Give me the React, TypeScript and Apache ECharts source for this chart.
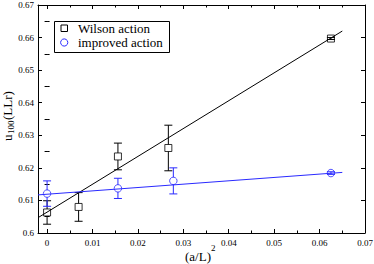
import React, { useEffect, useRef } from "react";
import * as echarts from "echarts";

// Wilson action data
const wilsonX = [0, 0.00694, 0.0156, 0.0267, 0.0625];
const wilsonY = [0.6063, 0.608, 0.6235, 0.6261, 0.6597];
const wilsonErr = [0.0036, 0.0044, 0.0041, 0.007, 0.0003];
// improved action data
const improvedX = [0, 0.0156, 0.0278, 0.0625];
const improvedY = [0.6121, 0.6137, 0.616, 0.6184];
const improvedErr = [0.0039, 0.0031, 0.004, 0.0004];
// linear fits
const wilsonFitX = [-0.002, 0.065];
const wilsonFitY = [0.6047, 0.662];
const improvedFitX = [-0.002, 0.065];
const improvedFitY = [0.6117, 0.6186];
// ticks
const xTicks = [0, 0.01, 0.02, 0.03, 0.04, 0.05, 0.06, 0.07];
const xMinorTicks = [0.005, 0.015, 0.025, 0.035, 0.045, 0.055, 0.065];
const yTicks = [0.6, 0.61, 0.62, 0.63, 0.64, 0.65, 0.66, 0.67];
const yMinorTicks = [0.605, 0.615, 0.625, 0.635, 0.645, 0.655, 0.665];

const BLUE = "#2a2aff";
const FONT = "Liberation Serif";

function errRender(color: string, half: number) {
  return (params: any, api: any) => {
    const x = api.value(0);
    const y = api.value(1);
    const e = api.value(2);
    const top = api.coord([x, y + e]);
    const bot = api.coord([x, y - e]);
    const c = api.coord([x, y]);
    const cap = 4;
    const style = { stroke: color, lineWidth: 1 };
    const children: any[] = [];
    if (top[1] < c[1] - half) {
      children.push({ type: "line", shape: { x1: c[0], y1: top[1], x2: c[0], y2: c[1] - half }, style });
      children.push({ type: "line", shape: { x1: c[0], y1: c[1] + half, x2: c[0], y2: bot[1] }, style });
    } else {
      children.push({ type: "line", shape: { x1: c[0], y1: top[1], x2: c[0], y2: bot[1] }, style });
    }
    children.push({ type: "line", shape: { x1: c[0] - cap, y1: top[1], x2: c[0] + cap, y2: top[1] }, style });
    children.push({ type: "line", shape: { x1: c[0] - cap, y1: bot[1], x2: c[0] + cap, y2: bot[1] }, style });
    return { type: "group", children };
  };
}

export default function App() {
  const ref = useRef<HTMLDivElement>(null);
  useEffect(() => {
    if (!ref.current) return;
    document.body.style.margin = "0";
    document.body.style.overflow = "hidden";
    const chart = echarts.init(ref.current, undefined, { renderer: "svg" });
    const axisCommon = {
      type: "value" as const,
      axisLine: { show: true, onZero: false, lineStyle: { color: "#000", width: 1 } },
      splitLine: { show: false },
    };
    const xBase = { ...axisCommon, min: -0.002, max: 0.07 };
    const yBase = { ...axisCommon, min: 0.6, max: 0.67 };
    const option: any = {
      animation: false,
      backgroundColor: "#fff",
      grid: { left: 38, right: 9, top: 5, bottom: 31, containLabel: false, outerBoundsMode: "none" },
      xAxis: [
        {
          ...xBase,
          position: "bottom",
          axisTick: { show: true, inside: true, length: 4, customValues: xTicks, lineStyle: { color: "#000" } },
          axisLabel: {
            show: true,
            customValues: xTicks,
            margin: 5,
            fontFamily: FONT,
            fontSize: 9,
            color: "#000",
            formatter: (v: number) => String(+v.toFixed(3)),
          },
        },
        {
          ...xBase,
          position: "bottom",
          axisLine: { show: false },
          axisTick: { show: true, inside: true, length: 2.5, customValues: xMinorTicks, lineStyle: { color: "#000" } },
          axisLabel: { show: false },
        },
        {
          ...xBase,
          position: "top",
          axisTick: { show: true, inside: true, length: 4, customValues: xTicks, lineStyle: { color: "#000" } },
          axisLabel: { show: false },
        },
        {
          ...xBase,
          position: "top",
          axisLine: { show: false },
          axisTick: { show: true, inside: true, length: 2.5, customValues: xMinorTicks, lineStyle: { color: "#000" } },
          axisLabel: { show: false },
        },
      ],
      yAxis: [
        {
          ...yBase,
          position: "left",
          axisTick: { show: true, inside: true, length: 4, customValues: yTicks, lineStyle: { color: "#000" } },
          axisLabel: {
            show: true,
            customValues: yTicks,
            margin: 4,
            fontFamily: FONT,
            fontSize: 9,
            color: "#000",
            formatter: (v: number) => String(+v.toFixed(3)),
          },
        },
        {
          ...yBase,
          position: "left",
          axisLine: { show: false },
          axisTick: { show: true, inside: true, length: 2.5, customValues: yMinorTicks, lineStyle: { color: "#000" } },
          axisLabel: { show: false },
        },
        {
          ...yBase,
          position: "right",
          axisTick: { show: true, inside: true, length: 4, customValues: yTicks, lineStyle: { color: "#000" } },
          axisLabel: { show: false },
        },
        {
          ...yBase,
          position: "right",
          axisLine: { show: false },
          axisTick: { show: true, inside: true, length: 2.5, customValues: yMinorTicks, lineStyle: { color: "#000" } },
          axisLabel: { show: false },
        },
      ],
      series: [
        {
          name: "Wilson fit",
          type: "line",
          data: wilsonFitX.map((x, i) => [x, wilsonFitY[i]]),
          showSymbol: false,
          lineStyle: { color: "#000", width: 1 },
          silent: true,
        },
        {
          name: "improved fit",
          type: "line",
          data: improvedFitX.map((x, i) => [x, improvedFitY[i]]),
          showSymbol: false,
          lineStyle: { color: BLUE, width: 1 },
          silent: true,
        },
        {
          name: "Wilson err",
          type: "custom",
          renderItem: errRender("#000", 3.5),
          data: wilsonX.map((x, i) => [x, wilsonY[i], wilsonErr[i]]),
          encode: { x: 0, y: 1 },
          z: 3,
        },
        {
          name: "improved err",
          type: "custom",
          renderItem: errRender(BLUE, 3.5),
          data: improvedX.map((x, i) => [x, improvedY[i], improvedErr[i]]),
          encode: { x: 0, y: 1 },
          z: 3,
        },
        {
          name: "Wilson action",
          type: "scatter",
          symbol: "rect",
          symbolSize: 7,
          data: wilsonX.map((x, i) => [x, wilsonY[i]]),
          itemStyle: { color: "rgba(0,0,0,0)", borderColor: "#000", borderWidth: 1 },
          z: 4,
        },
        {
          name: "improved action",
          type: "scatter",
          symbol: "circle",
          symbolSize: 7.5,
          data: improvedX.map((x, i) => [x, improvedY[i]]),
          itemStyle: { color: "rgba(0,0,0,0)", borderColor: BLUE, borderWidth: 1 },
          z: 4,
        },
      ],
      graphic: [
        {
          type: "rect",
          shape: { x: 54.5, y: 21.5, width: 115, height: 31 },
          style: { fill: "#fff", stroke: "#000", lineWidth: 1 },
          z: 10,
        },
        {
          type: "rect",
          shape: { x: 61, y: 25, width: 6.5, height: 6.5 },
          style: { fill: "none", stroke: "#000", lineWidth: 1 },
          z: 11,
        },
        {
          type: "circle",
          shape: { cx: 64.2, cy: 42.5, r: 3.6 },
          style: { fill: "none", stroke: BLUE, lineWidth: 1 },
          z: 11,
        },
        {
          type: "text",
          x: 78,
          y: 28.5,
          style: { text: "Wilson action", font: `13px '${FONT}'`, fill: "#000", verticalAlign: "middle", align: "left" },
          z: 11,
        },
        {
          type: "text",
          x: 78,
          y: 42.5,
          style: { text: "improved action", font: `13px '${FONT}'`, fill: "#000", verticalAlign: "middle", align: "left" },
          z: 11,
        },
        {
          type: "group",
          x: 7,
          y: 141,
          rotation: Math.PI / 2,
          children: [
            { type: "text", x: 0, y: 0, style: { text: "u", font: `13px '${FONT}'`, fill: "#000", verticalAlign: "middle", align: "left" } },
            { type: "text", x: 7, y: 4, style: { text: "100", font: `9px '${FONT}'`, fill: "#000", verticalAlign: "middle", align: "left" } },
            { type: "text", x: 21, y: 0, style: { text: "(LLr)", font: `13px '${FONT}'`, fill: "#000", verticalAlign: "middle", align: "left" } },
          ],
        },
        {
          type: "text",
          x: 185,
          y: 256,
          style: { text: "(a/L)", font: `13px '${FONT}'`, fill: "#000", verticalAlign: "middle", align: "left" },
        },
        {
          type: "text",
          x: 211,
          y: 248,
          style: { text: "2", font: `9px '${FONT}'`, fill: "#000", verticalAlign: "middle", align: "left" },
        },
      ],
    };
    chart.setOption(option);
    return () => chart.dispose();
  }, []);
  return (
    <div
      ref={ref}
      style={{ position: "fixed", left: 0, top: 0, width: 374, height: 264 }}
    />
  );
}
